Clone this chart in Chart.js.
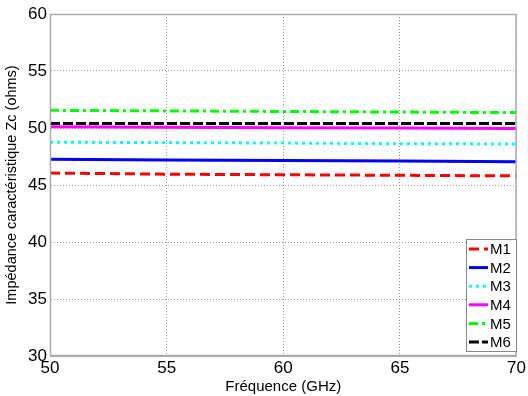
<!DOCTYPE html>
<html>
<head>
<meta charset="utf-8">
<script src="https://cdn.jsdelivr.net/npm/chart.js@4/dist/chart.umd.min.js"></script>
<style>
  html, body { margin: 0; padding: 0; background: #fff; }
  #wrap { width: 528px; height: 396px; }
</style>
</head>
<body>
<div id="wrap"><canvas id="zcChart" width="528" height="396"></canvas></div>
<script>
// --- Data ---
const freqs = [50, 55, 60, 65, 70];
const m1 = [46.05, 45.95, 45.9, 45.85, 45.8];
const m2 = [47.25, 47.2, 47.15, 47.1, 47.05];
const m3 = [48.75, 48.72, 48.68, 48.62, 48.6];
const m4 = [50.1, 50.07, 50.03, 50.0, 49.95];
const m5 = [51.55, 51.5, 51.45, 51.4, 51.35];
const m6 = [50.4, 50.4, 50.4, 50.4, 50.4];
const seriesNames = ['M1', 'M2', 'M3', 'M4', 'M5', 'M6'];
const xTicks = [50, 55, 60, 65, 70];
const yTicks = [30, 35, 40, 45, 50, 55, 60];

const FONT = '"Liberation Sans", Arial, sans-serif';

function series(name, values, color, dash) {
    return {
        label: name,
        data: freqs.map((f, i) => ({ x: f, y: values[i] })),
        borderColor: color,
        backgroundColor: color,
        borderWidth: 3,
        borderDash: dash,
        borderCapStyle: 'butt',
        pointRadius: 0,
        tension: 0,
        fill: false
    };
}

// --- Frame + legend drawn inside the plot, MATLAB style ---
const framePlugin = {
    id: 'frameLegend',
    afterDraw(chart) {
        const ctx = chart.ctx;
        const a = chart.chartArea;
        ctx.save();
        ctx.strokeStyle = '#aaa';
        ctx.lineWidth = 1.5;
        ctx.setLineDash([]);
        ctx.strokeRect(a.left + 0.5, a.top + 0.5, a.right - a.left - 1, a.bottom - a.top - 1);

        // legend box
        const bx = 466, by = 239, bw = 50, bh = 112;
        ctx.fillStyle = '#fff';
        ctx.fillRect(bx, by, bw, bh);
        ctx.strokeStyle = '#888';
        ctx.lineWidth = 1;
        ctx.strokeRect(bx + 0.5, by + 0.5, bw, bh);
        ctx.font = '15px ' + FONT;
        ctx.textBaseline = 'middle';
        ctx.textAlign = 'left';
        chart.data.datasets.forEach((ds, i) => {
            const y = by + 10 + i * 18.6;
            ctx.strokeStyle = ds.borderColor;
            ctx.lineWidth = 3;
            ctx.lineCap = 'butt';
            ctx.setLineDash(ds.borderDash || []);
            ctx.beginPath();
            ctx.moveTo(bx + 3, y);
            ctx.lineTo(bx + 22, y);
            ctx.stroke();
            ctx.setLineDash([]);
            ctx.fillStyle = '#000';
            ctx.fillText(ds.label, bx + 24, y + 1);
        });
        ctx.restore();
    }
};

const datasets = [
    series(seriesNames[0], m1, '#ff0000', [10, 5]),
    series(seriesNames[1], m2, '#0000ff', []),
    series(seriesNames[2], m3, '#00ffff', [3, 4]),
    series(seriesNames[3], m4, '#ff00ff', []),
    series(seriesNames[4], m5, '#00ff00', [9, 4, 3, 4]),
    series(seriesNames[5], m6, '#000000', [10, 3])
];

new Chart(document.getElementById('zcChart'), {
    type: 'line',
    data: { datasets: datasets },
    options: {
        responsive: false,
        animation: false,
        layout: { padding: { top: 14, right: 10, left: 0, bottom: 0 } },
        plugins: { legend: { display: false }, tooltip: { enabled: false } },
        scales: {
            x: {
                type: 'linear',
                min: 50, max: 70,
                afterBuildTicks: s => { s.ticks = xTicks.map(v => ({ value: v })); },
                afterFit: s => { s.height = 40; },
                grid: { color: '#999', drawTicks: false, lineWidth: 1 },
                border: { display: true, color: '#aaa', dash: [1, 2] },
                ticks: { color: '#000', font: { size: 17, family: FONT }, padding: 2, maxRotation: 0 },
                title: { display: true, text: 'Fréquence (GHz)', color: '#000',
                         font: { size: 15, family: FONT }, padding: { top: -3, bottom: 0 } }
            },
            y: {
                min: 30, max: 60,
                afterBuildTicks: s => { s.ticks = yTicks.map(v => ({ value: v })); },
                afterFit: s => { s.width = 50; },
                grid: { color: '#999', drawTicks: false, lineWidth: 1 },
                border: { display: true, color: '#aaa', dash: [1, 2] },
                ticks: { color: '#000', font: { size: 17, family: FONT }, padding: 3 },
                title: { display: true, text: 'Impédance caractéristique Zc (ohms)', color: '#000',
                         font: { size: 14.5, family: FONT }, padding: { top: 3, bottom: 0 } }
            }
        }
    },
    plugins: [framePlugin]
});
</script>
</body>
</html>
